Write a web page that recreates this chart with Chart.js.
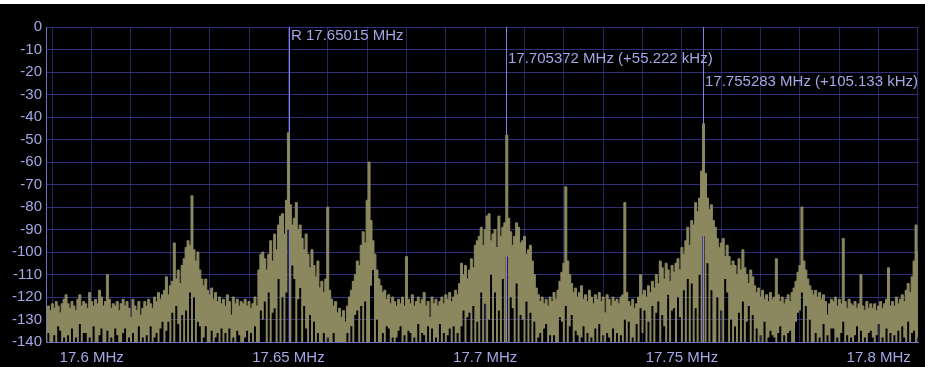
<!DOCTYPE html>
<html>
<head>
<meta charset="utf-8">
<title>Spectrum 17.59 - 17.81 MHz</title>
<script src="https://cdn.jsdelivr.net/npm/chart.js@4.4.1/dist/chart.umd.min.js"></script>
<style>
  html, body { margin: 0; padding: 0; background: #fff; }
  #wrap { position: absolute; left: 0; top: 4px; width: 925px; height: 363px; background: #000; }
  canvas { display: block; }
</style>
</head>
<body>
<div id="wrap"><canvas id="spectrum" width="925" height="363"></canvas></div>
<script>
// FFT bins: 0.5 kHz each, starting at 17.5885 MHz
const startMHz = 17.5885;
const binMHz = 0.0005;

// per-bin maximum level (dB)
const peakDb = [
  -125,-124,-126,-123,-125,-122,-124,-127,-123,-121,
  -119,-123,-125,-122,-124,-126,-121,-119,-124,-122,
  -123,-125,-118,-122,-124,-121,-123,-117,-120,-124,
  -122,-110,-121,-125,-123,-124,-122,-126,-123,-121,
  -124,-122,-125,-129,-121,-124,-126,-122,-128,-125,
  -122,-124,-121,-123,-125,-120,-122,-118,-121,-119,
  -117,-111,-119,-115,-113,-96,-112,-108,-114,-106,
  -103,-98,-95,-97,-75,-99,-104,-100,-108,-112,
  -115,-112,-117,-119,-116,-121,-118,-122,-120,-123,
  -121,-124,-119,-122,-128,-120,-123,-121,-124,-122,
  -123,-121,-124,-122,-125,-123,-120,-124,-108,-101,
  -100,-103,-108,-101,-95,-104,-92,-99,-88,-84,
  -83,-92,-77,-47,-79,-88,-85,-78,-90,-88,
  -94,-99,-92,-101,-107,-99,-106,-111,-104,-116,
  -113,-118,-112,-80,-117,-121,-124,-122,-127,-125,
  -129,-126,-131,-124,-120,-117,-113,-110,-104,-106,
  -97,-91,-96,-77,-60,-86,-95,-101,-108,-112,
  -115,-118,-117,-121,-119,-123,-120,-122,-124,-121,
  -123,-120,-124,-102,-121,-123,-119,-124,-122,-120,
  -123,-121,-118,-124,-122,-129,-120,-123,-121,-124,
  -122,-120,-123,-119,-121,-118,-122,-120,-117,-119,
  -114,-105,-110,-106,-112,-108,-103,-107,-97,-95,
  -93,-89,-97,-90,-84,-83,-95,-92,-90,-98,
  -84,-93,-89,-87,-48,-85,-91,-97,-93,-87,
  -89,-96,-95,-93,-101,-99,-97,-104,-110,-116,
  -119,-122,-120,-123,-121,-124,-120,-122,-118,-121,
  -117,-113,-109,-105,-71,-104,-110,-114,-118,-116,
  -120,-118,-115,-121,-119,-122,-117,-120,-123,-119,
  -121,-118,-122,-120,-127,-119,-121,-124,-120,-122,
  -121,-123,-120,-119,-78,-118,-122,-124,-121,-125,
  -123,-120,-110,-119,-117,-120,-115,-118,-113,-116,
  -110,-114,-104,-107,-112,-105,-108,-113,-106,-109,
  -105,-103,-108,-98,-101,-95,-89,-97,-86,-88,
  -78,-82,-76,-64,-43,-65,-76,-81,-79,-86,
  -89,-94,-98,-96,-94,-102,-97,-102,-106,-104,
  -106,-110,-103,-108,-99,-107,-110,-114,-108,-111,
  -115,-118,-116,-120,-117,-121,-119,-122,-118,-121,
  -120,-103,-119,-122,-120,-123,-121,-119,-122,-118,
  -116,-113,-109,-106,-80,-104,-108,-112,-115,-117,
  -119,-117,-120,-118,-121,-119,-122,-128,-123,-121,
  -122,-120,-124,-121,-123,-94,-122,-125,-121,-123,
  -124,-122,-125,-123,-110,-124,-126,-122,-125,-123,
  -125,-123,-126,-124,-122,-125,-123,-121,-107,-124,
  -122,-124,-120,-123,-121,-119,-122,-117,-114,-118,
  -111,-104,-88,-100
];

// per-bin minimum level (dB)
const floorDb = [
  -140,-136,-140,-140,-137,-140,-133,-135,-140,-138,
  -140,-137,-140,-134,-140,-138,-140,-132,-140,-136,
  -136,-140,-138,-140,-133,-140,-140,-137,-134,-140,
  -140,-135,-140,-138,-140,-134,-137,-140,-140,-136,
  -134,-140,-138,-140,-136,-140,-140,-133,-140,-138,
  -140,-137,-140,-133,-140,-138,-136,-140,-134,-131,
  -140,-135,-131,-140,-127,-140,-124,-132,-140,-128,
  -140,-126,-140,-118,-140,-120,-140,-131,-133,-140,
  -138,-133,-140,-140,-135,-140,-138,-136,-140,-134,
  -140,-136,-140,-134,-140,-138,-140,-135,-137,-140,
  -140,-138,-135,-140,-136,-140,-133,-140,-140,-126,
  -130,-122,-140,-118,-140,-127,-125,-140,-112,-140,
  -120,-140,-118,-90,-140,-106,-112,-140,-121,-116,
  -140,-124,-134,-140,-128,-140,-131,-140,-136,-140,
  -140,-136,-140,-138,-140,-140,-136,-140,-140,-140,
  -140,-140,-140,-136,-140,-133,-140,-128,-126,-140,
  -124,-140,-122,-140,-140,-115,-108,-140,-130,-140,
  -140,-136,-140,-133,-134,-140,-138,-140,-138,-135,
  -133,-140,-137,-140,-135,-136,-140,-138,-140,-132,
  -140,-136,-137,-140,-133,-140,-134,-140,-138,-140,
  -132,-140,-136,-140,-137,-134,-140,-133,-140,-136,
  -140,-133,-126,-140,-129,-127,-140,-124,-140,-131,
  -140,-118,-140,-123,-140,-130,-110,-140,-118,-140,
  -126,-140,-112,-140,-102,-140,-120,-125,-140,-114,
  -140,-128,-130,-140,-122,-140,-127,-140,-131,-140,
  -138,-136,-140,-134,-132,-140,-137,-140,-137,-140,
  -140,-129,-131,-140,-124,-140,-133,-128,-140,-135,
  -137,-140,-138,-133,-140,-136,-140,-138,-140,-134,
  -140,-132,-140,-137,-140,-136,-138,-140,-134,-140,
  -136,-140,-137,-140,-130,-140,-131,-140,-138,-140,
  -132,-140,-125,-136,-126,-140,-131,-140,-124,-140,
  -127,-122,-140,-128,-133,-140,-119,-140,-126,-125,
  -140,-120,-129,-140,-117,-140,-112,-140,-114,-140,
  -125,-140,-110,-140,-93,-140,-105,-140,-117,-140,
  -140,-120,-140,-126,-140,-112,-118,-140,-130,-140,
  -133,-140,-127,-140,-122,-140,-131,-124,-140,-128,
  -140,-134,-140,-137,-140,-131,-140,-138,-135,-137,
  -138,-140,-136,-133,-140,-137,-140,-136,-135,-140,
  -140,-131,-127,-126,-118,-140,-124,-140,-130,-140,
  -140,-136,-140,-138,-140,-132,-140,-137,-140,-134,
  -134,-140,-138,-140,-136,-131,-140,-137,-140,-138,
  -140,-137,-133,-140,-135,-140,-138,-140,-136,-135,
  -138,-140,-137,-132,-140,-138,-140,-134,-140,-136,
  -140,-137,-140,-135,-140,-133,-138,-140,-131,-140,
  -136,-135,-140,-138
];

const gridFreqs = [17.59, 17.60, 17.61, 17.62, 17.63, 17.64, 17.65, 17.66, 17.67, 17.68, 17.69,
                   17.70, 17.71, 17.72, 17.73, 17.74, 17.75, 17.76, 17.77, 17.78, 17.79, 17.80, 17.81];
const freqTicks = [17.6, 17.65, 17.7, 17.75, 17.8];
const freqTickLabels = ['17.6 MHz', '17.65 MHz', '17.7 MHz', '17.75 MHz', '17.8 MHz'];
const levelTicks = [0, -10, -20, -30, -40, -50, -60, -70, -80, -90, -100, -110, -120, -130, -140];

const markerFreqs = [17.65015, 17.705372, 17.755283];
const markerLabels = ['R 17.65015 MHz', '17.705372 MHz (+55.222 kHz)', '17.755283 MHz (+105.133 kHz)'];

const TEXT = '#a3a7e6';
// grid is laid over the trace, slightly see-through
const GRID_H = 'rgba(60, 60, 152, 0.8)';
const GRID_V = 'rgba(46, 46, 120, 0.8)';
const AXIS = '#7272c2';
const MARKER = '#8282ea';
const TRACE = '#8b8860';
const FONT = { family: '"Liberation Sans", Arial, sans-serif', size: 15 };

function toPoints(arr) {
  return arr.map((v, i) => ({ x: startMHz + i * binMHz, y: v }));
}

// marker lines sit behind the trace, their readouts on top of everything
const markerPlugin = {
  id: 'markers',
  beforeDatasetsDraw(chart) {
    const { ctx, chartArea, scales: { x } } = chart;
    ctx.save();
    ctx.strokeStyle = MARKER;
    ctx.lineWidth = 1;
    markerFreqs.forEach(f => {
      const px = Math.round(x.getPixelForValue(f)) + 0.5;
      ctx.beginPath();
      ctx.moveTo(px, chartArea.top);
      ctx.lineTo(px, chartArea.bottom);
      ctx.stroke();
    });
    ctx.restore();
  },
  afterDraw(chart) {
    const { ctx, chartArea, scales: { x } } = chart;
    ctx.save();
    ctx.fillStyle = TEXT;
    ctx.font = FONT.size + 'px ' + FONT.family;
    ctx.textBaseline = 'middle';
    ctx.textAlign = 'left';
    markerFreqs.forEach((f, k) => {
      const px = Math.round(x.getPixelForValue(f)) + 2;
      ctx.fillText(markerLabels[k], px, chartArea.top + 9 + k * 23);
    });
    ctx.restore();
  }
};

new Chart(document.getElementById('spectrum'), {
  type: 'line',
  data: {
    datasets: [
      {
        label: 'min',
        data: toPoints(floorDb),
        borderColor: 'transparent',
        borderWidth: 0,
        pointRadius: 0,
        fill: false,
        stepped: 'middle'
      },
      {
        label: 'max',
        data: toPoints(peakDb),
        borderColor: TRACE,
        borderWidth: 1,
        backgroundColor: TRACE,
        pointRadius: 0,
        fill: '-1',
        stepped: 'middle'
      }
    ]
  },
  options: {
    responsive: false,
    animation: false,
    devicePixelRatio: 1,
    layout: { padding: { top: 23, right: 1, left: 0, bottom: 0 } },
    plugins: {
      legend: { display: false },
      tooltip: { enabled: false }
    },
    scales: {
      x: {
        type: 'linear',
        z: 1,
        min: 17.5884,
        max: 17.8101,
        afterBuildTicks: s => { s.ticks = gridFreqs.map(v => ({ value: v })); },
        afterFit: s => { s.height = 25; },
        grid: { color: GRID_V, drawTicks: false },
        border: { color: AXIS },
        ticks: {
          autoSkip: false,
          maxRotation: 0,
          padding: 7,
          color: TEXT,
          font: FONT,
          callback: v => {
            const k = freqTicks.findIndex(f => Math.abs(f - v) < 1e-6);
            return k < 0 ? '' : freqTickLabels[k];
          }
        }
      },
      y: {
        z: 1,
        min: -140,
        max: 0,
        afterBuildTicks: s => { s.ticks = levelTicks.map(v => ({ value: v })); },
        afterFit: s => { s.width = 46; },
        grid: { color: GRID_H, drawTicks: false },
        border: { color: AXIS },
        ticks: { color: TEXT, font: FONT, padding: 4, callback: v => String(v) }
      }
    }
  },
  plugins: [markerPlugin]
});
</script>
</body>
</html>
